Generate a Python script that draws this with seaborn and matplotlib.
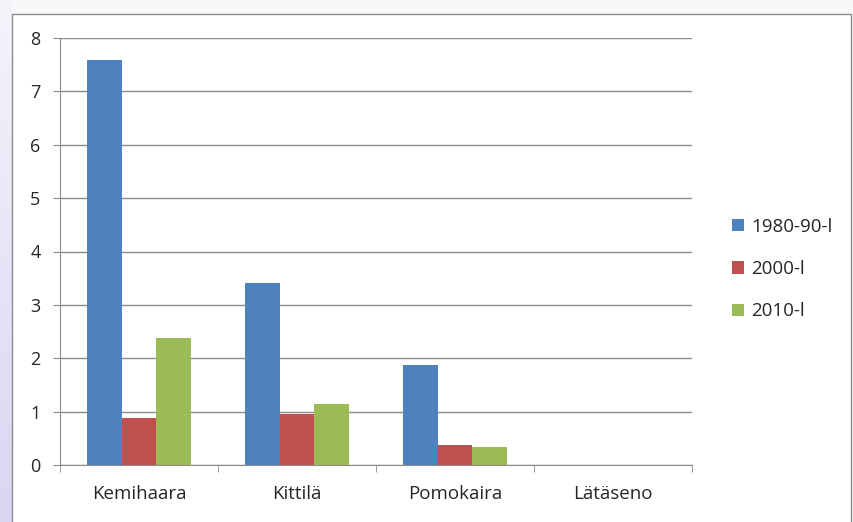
import matplotlib
matplotlib.use("Agg")
import matplotlib.pyplot as plt
import seaborn as sns
import numpy as np
import pandas as pd
from matplotlib.patches import Rectangle

# Data
areas = ["Kemihaara", "Kittilä", "Pomokaira", "Lätäseno"]
periods = ["1980-90-l", "2000-l", "2010-l"]
v_1980_90 = [7.58, 3.41, 1.87, 0.0]
v_2000 = [0.88, 0.95, 0.37, 0.0]
v_2010 = [2.38, 1.14, 0.34, 0.0]
colors = ["#4F81BD", "#C0504D", "#9BBB59"]

df = pd.DataFrame({
    "area": areas * 3,
    "period": [periods[0]] * 4 + [periods[1]] * 4 + [periods[2]] * 4,
    "value": v_1980_90 + v_2000 + v_2010,
})

sns.set_style("white")
plt.rcParams["font.family"] = ["Open Sans", "DejaVu Sans"]

fig = plt.figure(figsize=(8.54, 5.22), dpi=100)
fig.patch.set_facecolor("#f7f7fa")

# background: lavender strip on the left and the framed chart area
bg = fig.add_axes([0, 0, 1, 1], zorder=-10)
bg.axis("off")
grad = np.linspace(0, 1, 100).reshape(-1, 1)
bg.imshow(grad, extent=(0, 12, 522, 0), aspect="auto", origin="upper",
          cmap=matplotlib.colors.LinearSegmentedColormap.from_list("lav", ["#f4f4fb", "#d9d6f2"]))
bg.add_patch(Rectangle((12.5, 13.5), 839, 510, facecolor="white",
                       edgecolor="#8c8c8c", linewidth=1.0))
bg.set_xlim(0, 854)
bg.set_ylim(522, 0)

ax = fig.add_axes([60 / 854, 57 / 522, 632 / 854, 427 / 522])
ax.patch.set_alpha(0)
sns.barplot(data=df, x="area", y="value", hue="period", palette=colors,
            width=0.66, saturation=1, gap=0, ax=ax, linewidth=0, errorbar=None)

ax.set_ylim(0, 8)
ax.set_yticks(range(0, 9))
ax.set_xlim(-0.5, 3.5)
ax.set_xlabel("")
ax.set_ylabel("")
ax.yaxis.grid(True, color="#8c8c8c", linewidth=1.0)
ax.set_axisbelow(True)
for s in ["top", "right"]:
    ax.spines[s].set_visible(False)
ax.spines["left"].set_color("#8c8c8c")
ax.spines["bottom"].set_color("#8c8c8c")
ax.tick_params(axis="y", left=True, length=5, color="#8c8c8c", labelsize=13, pad=9)
ax.tick_params(axis="x", bottom=False, labelsize=13.5, pad=11)
ax.set_xticks(np.arange(-0.5, 4, 1), minor=True)
ax.tick_params(axis="x", which="minor", bottom=True, length=5, color="#8c8c8c")

ax.legend(loc="center left", bbox_to_anchor=(1.036, 0.459), frameon=False,
          fontsize=13.5, handlelength=0.65, handleheight=0.65, handletextpad=0.4,
          labelspacing=1.3, title=None)

fig.savefig("out.png", dpi=100, facecolor=fig.get_facecolor())
